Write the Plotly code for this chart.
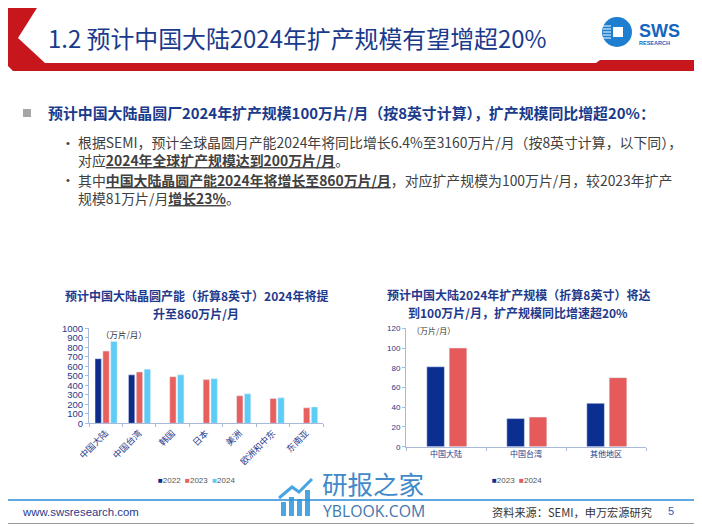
import plotly.graph_objects as go

# ---- dados ----
regioes = ['中国大陆', '中国台湾', '韩国', '日本', '美洲', '欧洲和中东', '东南亚']
cap_2022 = [680, 510, None, None, None, None, None]
cap_2023 = [760, 540, 490, 460, 290, 262, 163]
cap_2024 = [860, 570, 510, 470, 310, 268, 172]

regioes_exp = ['中国大陆', '中国台湾', '其他地区']
exp_2023 = [81, 28.5, 44]
exp_2024 = [100, 30, 70]

ticks_esq = [0, 100, 200, 300, 400, 500, 600, 700, 800, 900, 1000]
ticks_dir = [0, 20, 40, 60, 80, 100, 120]

W, H = 702, 527
OFF = 8  # margem padrao do <body> da pagina
AZUL = '#1F3A8C'
FONTE = 'Liberation Sans, Noto Sans CJK SC'
CJK = 'Noto Sans CJK SC'


def px(x):
    return (x - OFF) / W


def py(y):
    return 1 - (y - OFF) / H


fig = go.Figure()

# grafico da esquerda
for nome, vals, cor, off in [('2022', cap_2022, '#0D2C8C', -0.32),
                             ('2023', cap_2023, '#E8605E', -0.085),
                             ('2024', cap_2024, '#5DCDF5', 0.15)]:
    fig.add_trace(go.Bar(x=regioes, y=vals, name=nome, marker_color=cor,
                         width=0.19, offset=off, xaxis='x', yaxis='y',
                         showlegend=False))

# grafico da direita
for nome, vals, cor, off in [('2023', exp_2023, '#0B2F91', -0.24),
                             ('2024', exp_2024, '#E55A5A', 0.04)]:
    fig.add_trace(go.Bar(x=regioes_exp, y=vals, name=nome, marker_color=cor,
                         width=0.22, offset=off, xaxis='x2', yaxis='y2',
                         showlegend=False))

eixo = dict(showline=True, linecolor='#A9B9D9', linewidth=1, showgrid=False,
            zeroline=False, ticks='outside', tickcolor='#A9B9D9', ticklen=3,
            automargin=False, fixedrange=True)

fig.update_layout(
    width=W, height=H, margin=dict(l=0, r=0, t=0, b=0, autoexpand=False),
    paper_bgcolor='white', plot_bgcolor='white',
    barmode='group', showlegend=False,
    font=dict(family=FONTE, color=AZUL),
    xaxis=dict(eixo, domain=[px(89), px(323)], tickson='boundaries',
               tickangle=-45, tickfont=dict(size=9, family=CJK, color=AZUL)),
    yaxis=dict(eixo, domain=[py(423.3), py(328.3)], range=[0, 1000],
               tickvals=ticks_esq, tickfont=dict(size=9.5, color=AZUL)),
    xaxis2=dict(eixo, domain=[px(406), px(646)], tickson='boundaries',
                anchor='y2', tickfont=dict(size=8, family=CJK, color=AZUL)),
    yaxis2=dict(eixo, domain=[py(446.7), py(328.3)], range=[0, 120],
                anchor='x2', tickvals=ticks_dir,
                tickfont=dict(size=8, color=AZUL)),
)

# ---- decoracao do slide ----
shapes = []
# cabecalho vermelho
cabecalho = [(7, 0), (42, 0), (18, 38), (45, 63), (596, 63), (600, 60), (702, 60),
             (702, 71), (13, 71), (0, 58), (0, 10)]
path = 'M ' + ' L '.join(f'{px(a):.5f},{py(b):.5f}' for a, b in cabecalho) + ' Z'
shapes.append(dict(type='path', path=path, xref='paper', yref='paper',
                   fillcolor='#C8161D', line=dict(width=0)))
# borda do slide
shapes.append(dict(type='line', xref='paper', yref='paper', x0=px(700.5), x1=px(700.5),
                   y0=py(0), y1=py(523.5), line=dict(color='#9A9A9A', width=1)))
shapes.append(dict(type='line', xref='paper', yref='paper', x0=px(0), x1=px(700.5),
                   y0=py(523.5), y1=py(523.5), line=dict(color='#9A9A9A', width=1)))
# linha do rodape
shapes.append(dict(type='line', xref='paper', yref='paper', x0=0, x1=px(700),
                   y0=py(500), y1=py(500), line=dict(color='#2B8AD6', width=1.5)))
# marcador quadrado
shapes.append(dict(type='rect', xref='paper', yref='paper', x0=px(23), x1=px(31),
                   y0=py(117), y1=py(109), fillcolor='#A6A6A6', line=dict(width=0)))
# logo SWS
shapes.append(dict(type='circle', xref='paper', yref='paper', x0=px(602), x1=px(632),
                   y0=py(47), y1=py(17), fillcolor='#1E7FD0', line=dict(width=0)))
shapes.append(dict(type='rect', xref='paper', yref='paper', x0=px(613), x1=px(623),
                   y0=py(37), y1=py(27), fillcolor='white', line=dict(width=0)))
for yy in [26, 29, 32, 35, 38]:
    shapes.append(dict(type='line', xref='paper', yref='paper', x0=px(603), x1=px(611),
                       y0=py(yy), y1=py(yy), line=dict(color='white', width=1)))
# marca d'agua (icone)
for x0, topo in [(281, 502), (289, 497), (297, 499), (305, 490)]:
    shapes.append(dict(type='rect', xref='paper', yref='paper', x0=px(x0), x1=px(x0 + 5),
                       y0=py(516), y1=py(topo), fillcolor='#2A96DC', opacity=0.85,
                       line=dict(width=0)))
seta = [(279, 498), (292, 487), (299, 492), (312, 479)]
path = 'M ' + ' L '.join(f'{px(a):.5f},{py(b):.5f}' for a, b in seta)
shapes.append(dict(type='path', path=path, xref='paper', yref='paper',
                   line=dict(color='#2A96DC', width=3), opacity=0.85))
fig.update_layout(shapes=shapes)


def texto(x, y, t, size, color=AZUL, family=CJK, xanchor='left', **kw):
    fig.add_annotation(x=px(x), y=py(y), xref='paper', yref='paper', text=t,
                       showarrow=False, xanchor=xanchor, yanchor='middle',
                       font=dict(size=size, color=color, family=family), **kw)


texto(46, 37, '1.2 预计中国大陆2024年扩产规模有望增超20%', 23.9, color='#1A3A8C')
texto(637, 31, '<b>SWS</b>', 18, color='#1565C0', family='Liberation Sans')
texto(637, 43, '<b>RESEARCH</b>', 5.5, color='#1565C0', family='Liberation Sans')

texto(46, 113, '<b>预计中国大陆晶圆厂2024年扩产规模100万片/月（按8英寸计算），扩产规模同比增超20%：</b>',
      14.9, color='#1A3A8C')
cinza = '#404040'
texto(64, 143, '•', 11, color=cinza, family='Liberation Sans')
texto(76, 151.5, '根据SEMI，预计全球晶圆月产能2024年将同比增长6.4%至3160万片/月（按8英寸计算，以下同），<br>'
      '对应<b><u>2024年全球扩产规模达到200万片/月</u></b>。',
      13.9, color=cinza, align='left')
texto(64, 180, '•', 11, color=cinza, family='Liberation Sans')
texto(76, 188.5, '其中<b><u>中国大陆晶圆产能2024年将增长至860万片/月</u></b>，对应扩产规模为100万片/月，较2023年扩产<br>'
      '规模81万片/月<b><u>增长23%</u></b>。', 13.9, color=cinza, align='left')

# titulos dos graficos
texto(196, 295.5, '<b>预计中国大陆晶圆产能（折算8英寸）2024年将提</b>', 12, xanchor='center')
texto(196, 313.5, '<b>升至860万片/月</b>', 12, xanchor='center')
texto(518, 294.5, '<b>预计中国大陆2024年扩产规模（折算8英寸）将达</b>', 12, xanchor='center')
texto(518, 312.5, '<b>到100万片/月，扩产规模同比增速超20%</b>', 12, xanchor='center')
texto(99, 334, '（万片/月）', 8.5, color='#333333')
texto(410, 330, '（万片/月）', 8, color='#333333')

# legendas
cores_esq = ['#0D2C8C', '#E8605E', '#5DCDF5']
leg = '  '.join(f"<span style='color:{c}'>■</span>{n}" for c, n in zip(cores_esq, ['2022', '2023', '2024']))
texto(196, 480, leg, 8, color='#555555', family='Liberation Sans', xanchor='center')
cores_dir = ['#0B2F91', '#E55A5A']
leg = '  '.join(f"<span style='color:{c}'>■</span>{n}" for c, n in zip(cores_dir, ['2023', '2024']))
texto(517, 480, leg, 8, color='#555555', family='Liberation Sans', xanchor='center')

# rodape
texto(20, 512, 'www.swsresearch.com', 11.4, color=AZUL, family='Liberation Sans')
texto(490, 512, '资料来源：SEMI，申万宏源研究', 11.2, color='#333333')
texto(666, 511, '5', 11, color='#1F5FBF', family='Liberation Sans')
texto(320, 482.5, '研报之家', 25.5, color='#2E7DC4', opacity=0.9)
texto(321, 510.5, 'YBLOOK.COM', 15.8, color='#2C6AA8', family='Open Sans', opacity=0.9)

fig.write_html('out.html')
